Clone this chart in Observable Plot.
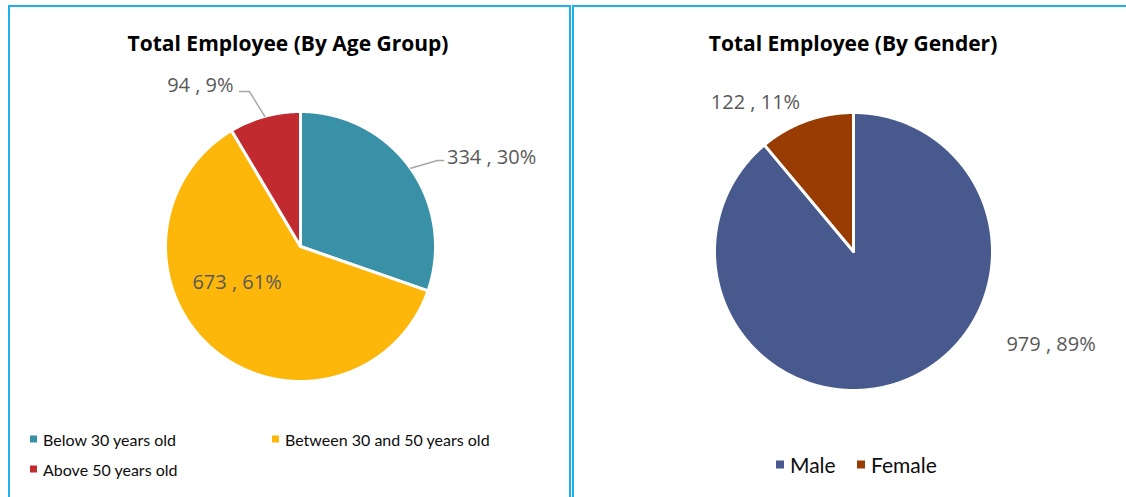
<!DOCTYPE html>
<html><head><meta charset="utf-8">
<script src="https://cdn.jsdelivr.net/npm/d3@7"></script>
<script src="https://cdn.jsdelivr.net/npm/@observablehq/plot@0.6"></script>
<style>
body{margin:0;background:#fff;}
#root{position:relative;width:1126px;height:497px;overflow:hidden;background:#fff;}
.frame{position:absolute;border:2px solid #1DB1EE;border-bottom:none;box-sizing:border-box;}
.title{position:absolute;font-family:"Open Sans",sans-serif;font-weight:700;font-size:21px;color:#000;transform:translate(-50%,-50%);white-space:nowrap;}
.leg{position:absolute;font-family:Lato,"Open Sans",sans-serif;font-size:16px;color:#0d0d0d;white-space:nowrap;display:flex;align-items:center;transform:translateY(-50%);}
.leg .sw{display:inline-block;width:7px;height:7px;margin-right:6px;}
.plot{position:absolute;left:0;top:0;}
</style></head><body><div id="root"></div>
<script>
// ---- data ----
const ageGroups = ["Below 30 years old", "Between 30 and 50 years old", "Above 50 years old"];
const ageCounts = [334, 673, 94];
const ageColors = ["#3891A7", "#FDB70B", "#C12B2F"];
const genders = ["Male", "Female"];
const genderCounts = [979, 122];
const genderColors = ["#485A8D", "#983C04"];
const titles = ["Total Employee (By Age Group)", "Total Employee (By Gender)"];

const root = document.getElementById("root");

// frames
function frame(l, t, w, h) {
  const d = document.createElement("div");
  d.className = "frame";
  Object.assign(d.style, {left: l + "px", top: t + "px", width: w + "px", height: h + "px"});
  root.appendChild(d);
}
frame(8, 5, 563, 500);
frame(572, 5, 570, 500);

function pie({names, counts, colors, cx, cy, r, labelLayout}) {
  const total = d3.sum(counts);
  let acc = 0;
  const slices = counts.map((v, i) => {
    const a0 = acc / total * 2 * Math.PI;
    acc += v;
    const a1 = acc / total * 2 * Math.PI;
    return {name: names[i], value: v, color: colors[i], a0, a1, mid: (a0 + a1) / 2,
            label: `${v} , ${Math.round(v / total * 100)}%`};
  });
  const marks = [];
  for (const s of slices) {
    const n = Math.max(2, Math.ceil((s.a1 - s.a0) / 0.005));
    const pts = [{x: 0, y: 0}];
    for (let k = 0; k <= n; k++) {
      const a = s.a0 + (s.a1 - s.a0) * k / n;
      pts.push({x: Math.sin(a), y: Math.cos(a)});
    }
    marks.push(Plot.line(pts, {x: "x", y: "y", fill: s.color, stroke: "white", strokeWidth: 3,
      strokeLinejoin: "round", curve: "linear-closed"}));
  }
  slices.forEach((s, i) => {
    const L = labelLayout[i];
    if (L.leader) {
      const lp = [{x: Math.sin(s.mid), y: Math.cos(s.mid)}, ...L.leader];
      marks.push(Plot.line(lp, {x: "x", y: "y", stroke: "#A6A6A6", strokeWidth: 1.5}));
    }
    marks.push(Plot.text([s], {x: () => L.x, y: () => L.y, text: "label", textAnchor: L.anchor,
      fontSize: 20, fontFamily: "Open Sans", fill: "#595959"}));
  });
  return Plot.plot({
    width: 1126, height: 497, margin: 0,
    x: {domain: [-1, 1], range: [cx - r, cx + r], axis: null},
    y: {domain: [-1, 1], range: [cy + r, cy - r], axis: null},
    marks
  });
}

const p1 = pie({names: ageGroups, counts: ageCounts, colors: ageColors, cx: 300, cy: 246, r: 135,
  labelLayout: [
    {x: 1.085, y: 0.66, anchor: "start", leader: [{x: 1.015, y: 0.637}, {x: 1.06, y: 0.637}]},
    {x: -0.47, y: -0.27, anchor: "middle"},
    {x: -0.496, y: 1.19, anchor: "end", leader: [{x: -0.378, y: 1.148}, {x: -0.452, y: 1.148}]}
  ]});
const p2 = pie({names: genders, counts: genderCounts, colors: genderColors, cx: 853, cy: 251, r: 139,
  labelLayout: [
    {x: 1.1, y: -0.673, anchor: "start"},
    {x: -0.705, y: 1.07, anchor: "middle"}
  ]});
for (const p of [p1, p2]) { p.classList.add("plot"); root.appendChild(p); }

// titles
[[titles[0], 288, 43], [titles[1], 853, 43]].forEach(([t, x, y]) => {
  const d = document.createElement("div");
  d.className = "title"; d.textContent = t;
  d.style.left = x + "px"; d.style.top = y + "px";
  root.appendChild(d);
});

// legends
function legend(name, color, x, y, fs, sw) {
  const d = document.createElement("div");
  d.className = "leg";
  d.style.left = x + "px"; d.style.top = y + "px"; d.style.fontSize = fs + "px";
  const s = document.createElement("span");
  s.className = "sw"; s.style.background = color; s.style.width = sw + "px"; s.style.height = sw + "px";
  d.appendChild(s);
  d.appendChild(document.createTextNode(name));
  root.appendChild(d);
}
legend(ageGroups[0], ageColors[0], 30, 439, 16, 7);
legend(ageGroups[1], ageColors[1], 272, 439, 16, 7);
legend(ageGroups[2], ageColors[2], 30, 469, 16, 7);
legend(genders[0], genderColors[0], 776, 464, 21, 8);
legend(genders[1], genderColors[1], 857, 464, 21, 8);
</script></body></html>
